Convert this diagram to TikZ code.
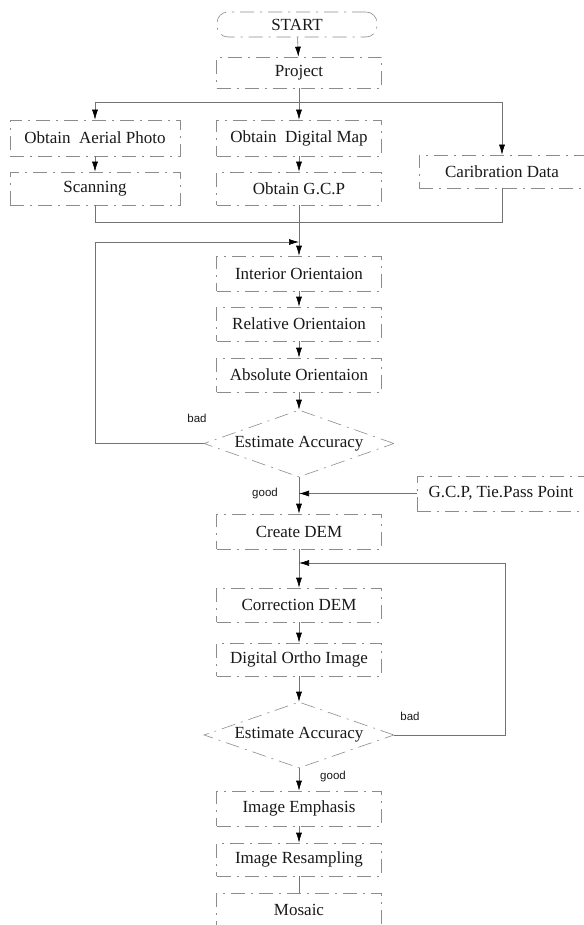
\documentclass[tikz,border=0pt]{standalone}
\usepackage{fontspec}
\setmainfont{Liberation Serif}
\newfontfamily\labfont{Liberation Sans}
\usetikzlibrary{arrows.meta,shapes.geometric}
\tikzset{
  boxbase/.style={draw=black!45, line width=0.6pt, dash pattern=on 14pt off 6pt on 2pt off 6pt,
    inner sep=0pt, font=\fontsize{17}{20}\selectfont, text=black!90},
  mainbox/.style={boxbase, rectangle, minimum width=165pt},
  sidebox/.style={boxbase, rectangle, minimum width=170pt},
  decbox/.style={boxbase, diamond, aspect=2.84, minimum width=190pt},
  conn/.style={draw=black!55, line width=0.6pt},
  arr/.style={conn, -{Latex[length=10pt,width=6pt,color=black]}},
  lab/.style={font=\labfont\fontsize{11.5}{13}\selectfont, text=black!90, inner sep=0pt}
}
\begin{document}
\begin{tikzpicture}[x=1pt,y=-1pt]
\useasboundingbox (0,0) rectangle (583,925);
\fill[white] (0,0) rectangle (583,925);

% nodes
\node[mainbox, rounded corners=11pt, minimum width=160pt, minimum height=25pt] (start) at (297,24.5) {START};
\node[mainbox, minimum height=31pt] (proj) at (299,72.5) {Project};
\node[sidebox, minimum height=36pt] (aerial) at (95,138) {Obtain\ \ Aerial Photo};
\node[sidebox, minimum height=33pt] (scan) at (95,188.5) {Scanning};
\node[mainbox, minimum height=36pt] (dmap) at (299,138) {Obtain\ \ Digital Map};
\node[mainbox, minimum height=33pt] (gcp) at (299,188.5) {Obtain G.C.P};
\node[boxbase, rectangle, minimum width=166pt, minimum height=33pt] (calib) at (502,171.5) {Caribration Data};
\node[mainbox, minimum height=35pt] (inter) at (299,273.5) {Interior Orientaion};
\node[mainbox, minimum height=34pt] (rel) at (299,324) {Relative Orientaion};
\node[mainbox, minimum height=34pt] (abs) at (299,375) {Absolute Orientaion};
\node[decbox, minimum height=67pt] (acc1) at (299,443.5) {Estimate Accuracy};
\node[boxbase, rectangle, minimum width=168pt, minimum height=35pt] (gcptie) at (501,493.5) {G.C.P, Tie.Pass Point};
\node[mainbox, minimum height=35pt] (create) at (299,531.5) {Create DEM};
\node[mainbox, minimum height=34pt] (corr) at (299,605) {Correction DEM};
\node[mainbox, minimum height=33pt] (ortho) at (299,659.5) {Digital Ortho Image};
\node[decbox, minimum height=66pt] (acc2) at (299,735) {Estimate Accuracy};
\node[mainbox, minimum height=35pt] (emph) at (299,808.5) {Image Emphasis};
\node[mainbox, minimum height=33pt] (resamp) at (299,859.5) {Image Resampling};
\node[mainbox, minimum height=34pt] (mosaic) at (299,910) {Mosaic};

% labels
\node[lab] (bad1) at (197,418) {bad};
\node[lab] (good1) at (265,493.5) {good};
\node[lab] (bad2) at (410,716) {bad};
\node[lab] (good2) at (333,777) {good};

% junction coordinates
\coordinate (j1) at (299,102);
\coordinate (j2) at (299,222);
\coordinate (j3) at (299,242);
\coordinate (lx) at (95,242);
\coordinate (j4) at (299,493.5);
\coordinate (j5) at (299,563);
\coordinate (rx) at (505,563);

% connectors
\draw[arr] (start) -- (proj);
\draw[conn] (proj.south) -- (j1);
\draw[conn] (aerial.north |- j1) -- (calib.north |- j1);
\draw[arr] (aerial.north |- j1) -- (aerial.north);
\draw[arr] (j1) -- (dmap.north);
\draw[arr] (calib.north |- j1) -- (calib.north);
\draw[arr] (aerial) -- (scan);
\draw[arr] (dmap) -- (gcp);
\draw[conn] (scan.south) -- (scan.south |- j2) -- (calib.south |- j2) -- (calib.south);
\draw[conn] (gcp.south) -- (j2);
\draw[arr] (j2) -- (inter.north);
\draw[arr] (acc1.west) -| (lx) -- (j3);
\draw[arr] (inter) -- (rel);
\draw[arr] (rel) -- (abs);
\draw[arr] (abs.south) -- (acc1.north);
\draw[arr] (acc1.south) -- (create.north);
\draw[arr] (gcptie.west) -- (j4);
\draw[arr] (create.south) -- (corr.north);
\draw[arr] (acc2.east) -| (rx) -- (j5);
\draw[arr] (corr) -- (ortho);
\draw[arr] (ortho.south) -- (acc2.north);
\draw[arr] (acc2.south) -- (emph.north);
\draw[arr] (emph) -- (resamp);
\draw[conn] (resamp) -- (mosaic);
\end{tikzpicture}
\end{document}
